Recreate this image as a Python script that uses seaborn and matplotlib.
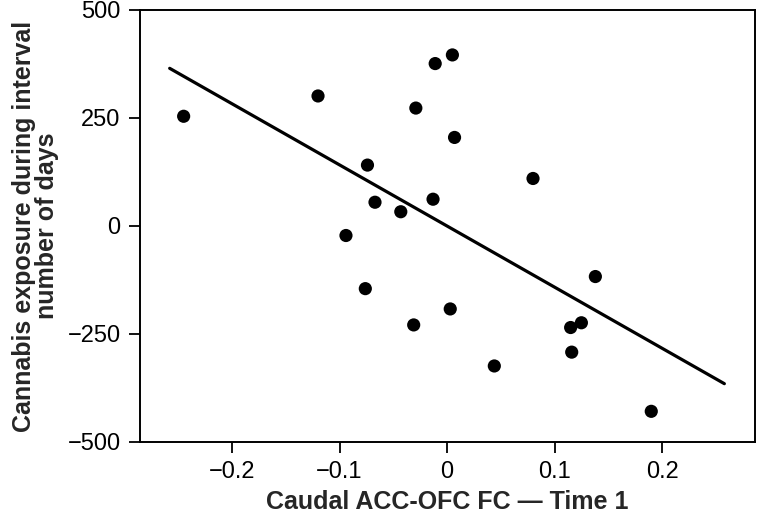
import numpy as np
import pandas as pd
import matplotlib
matplotlib.use("Agg")
import matplotlib.pyplot as plt
import seaborn as sns

# values
fc_time1 = [-0.245, -0.120, -0.011, 0.005, -0.029, 0.007, -0.074, -0.067, -0.043,
            -0.013, 0.080, 0.138, 0.125, 0.115, 0.116, 0.044, 0.190, -0.094,
            -0.076, -0.031, 0.003]
cannabis_days = [254, 301, 376, 396, 273, 205, 141, 55, 33,
                 62, 110, -117, -224, -235, -292, -324, -429, -22,
                 -145, -229, -192]

# fitted line end points as drawn in the reference
fit_x = [-0.258, 0.258]
fit_y = [365, -365]

x_ticks = [-0.2, -0.1, 0, 0.1, 0.2]
x_tick_labels = ["\u22120.2", "\u22120.1", "0", "0.1", "0.2"]
y_ticks = [-500, -250, 0, 250, 500]
y_tick_labels = ["\u2212500", "\u2212250", "0", "250", "500"]

df = pd.DataFrame({"fc": fc_time1, "days": cannabis_days})
fit = pd.DataFrame({"fc": fit_x, "days": fit_y})

sns.set_style("ticks")
plt.rcParams["font.family"] = ["Liberation Sans", "DejaVu Sans"]

fig = plt.figure(figsize=(7.6, 5.18), dpi=100, facecolor="w")
ax = fig.add_axes([140 / 760, 76 / 518, 615 / 760, 432 / 518])

sns.lineplot(data=fit, x="fc", y="days", color="black", linewidth=2.3, ax=ax)
sns.scatterplot(data=df, x="fc", y="days", color="black", s=90, edgecolor="none", ax=ax)

ax.set_xlim(-0.2856, 0.2865)
ax.set_ylim(-500, 500)
ax.set_xticks(x_ticks)
ax.set_xticklabels(x_tick_labels)
ax.set_yticks(y_ticks)
ax.set_yticklabels(y_tick_labels)
ax.tick_params(direction="out", length=8, width=1.3, labelsize=17, colors="black", pad=6)

for side in ["top", "right", "left", "bottom"]:
    ax.spines[side].set_visible(True)
    ax.spines[side].set_color("black")
    ax.spines[side].set_linewidth(1.4)

ax.set_xlabel("Caudal ACC-OFC FC \u2014 Time 1", fontsize=18, fontweight="bold", labelpad=5)
ax.set_ylabel("Cannabis exposure during interval\nnumber of days", fontsize=18,
              fontweight="bold", labelpad=6, linespacing=0.95)

plt.savefig("out.png", dpi=100, facecolor="w")
plt.close(fig)
